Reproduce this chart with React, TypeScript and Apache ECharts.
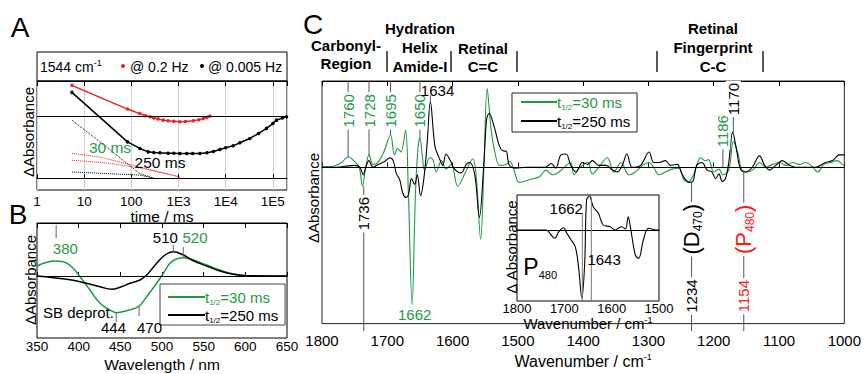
import React, { useEffect, useRef } from "react";
import * as echarts from "echarts";

const FONT = '"Liberation Sans", Arial, Helvetica, sans-serif';
const GREEN = "#1e9a46";
const RED = "#ee1f25";
const PRED = "#ff1a1a";
const GRAY = "#555";

// ---------- Panel A (kinetics at 1544 cm-1) ----------
const aRedTimes = [5.5, 83, 150, 200, 248, 300, 370, 474, 600, 800, 1070, 1400, 2050, 2700, 3340, 4000, 4630];
const aRedValues = [1.495, 1.113, 1.04, 1.005, 0.989, 0.97, 0.955, 0.935, 0.925, 0.915, 0.908, 0.912, 0.924, 0.94, 0.963, 0.98, 1.0];
const aBlackTimes = [5.5, 83, 152, 228, 300, 404, 600, 800, 1070, 1500, 2000, 2840, 4000, 5500, 7530, 10000, 14400, 20000, 32500, 50000, 73500, 100000, 120000, 160000, 195000];
const aBlackValues = [1.382, 0.585, 0.479, 0.424, 0.415, 0.408, 0.402, 0.4, 0.398, 0.398, 0.397, 0.398, 0.41, 0.43, 0.463, 0.49, 0.521, 0.57, 0.64, 0.72, 0.802, 0.88, 0.935, 0.97, 0.989];
const aFit30aTimes = [5.5, 21.7, 152, 1070];
const aFit30aValues = [0.40, 0.34, 0.18, 0.02];
const aFit30bTimes = [5.5, 35, 178, 1070];
const aFit30bValues = [0.29, 0.24, 0.156, 0.02];
const aFit250aTimes = [5.5, 30, 150, 300];
const aFit250aValues = [0.935, 0.5, 0.075, 0.0];
const aFit250bTimes = [5.5, 150, 300];
const aFit250bValues = [0.1, 0.05, 0.0];
const aRefLines = [0, 1];

// ---------- Panel B (UV/vis difference spectra) ----------
const bGreenWl = [350, 371.6, 381.6, 391.6, 401.6, 413.6, 425.6, 437.6, 445.6, 457.6, 471.6, 481.6, 493.6, 501.6, 511.6, 525.6, 537.6, 553.6, 569.6, 585.6, 601.6, 650];
const bGreenVal = [1.0, 1.5, 1.43, 0.93, -0.07, -1.4, -2.73, -3.4, -3.67, -3.47, -3.07, -2.07, -0.73, 0.27, 1.43, 1.83, 1.6, 1.1, 0.6, 0.2, 0.03, 0];
const bBlackWl = [350, 385.6, 401.6, 425.6, 439.6, 449.6, 461.6, 473.6, 481.6, 493.6, 503.6, 513.6, 525.6, 537.6, 553.6, 569.6, 585.6, 601.6, 650];
const bBlackVal = [0, -0.33, -0.57, -1.07, -1.33, -1.13, -0.73, -0.4, 0.1, 1.27, 2.1, 2.43, 2.1, 1.53, 1.0, 0.5, 0.17, 0.03, 0];

// ---------- Panel C (IR difference spectra) ----------
const cGreenSpectrum: [number, number][] = [
  [1800, 0.1], [1790, 0.05], [1780, 0.15], [1770, 0.5], [1760, 1.1], [1750, 0.6], [1743, 0], [1738, -2.0], [1733, 0],
  [1728, 1.3], [1722, 0.3], [1716, 0.4], [1706, 1.5], [1695, 3.4], [1689, 1.3], [1684, 2.0], [1679, 1.6], [1672, 3.9],
  [1668, -2.0], [1662, -14.5], [1657, -3.0], [1653, 2.0], [1650, 3.1], [1646, 1.0], [1643, -0.3], [1635, 1.0], [1630, 0.8],
  [1625, -0.5], [1617, 0.7], [1610, -0.2], [1602, 0.3], [1592, -2.0], [1580, -0.5], [1569, 0.9], [1564, -0.8], [1557, -7.6],
  [1552, 0], [1547, 8.3], [1541, 4.0], [1535, 1.5], [1528, 0.2], [1518, 0.3], [1512, 0.6], [1505, -0.5], [1498, -1.6],
  [1482, -1.3], [1467, -1.0], [1457, -0.3], [1447, -0.8], [1437, -0.5], [1426, 0.2], [1419, 0.5], [1414, -0.8], [1406, -0.1],
  [1393, 0.5], [1386, -0.7], [1376, 0], [1363, 1.0], [1353, -0.5], [1342, 0.5], [1330, -0.8], [1320, -0.5], [1309, 0.2],
  [1299, 0.5], [1292, 0], [1284, -0.8], [1274, -0.5], [1264, -0.2], [1253, -0.1], [1246, -1.3], [1238, -1.5], [1231, -0.8],
  [1220, 1.0], [1213, 0.7], [1208, 0.8], [1200, -0.5], [1192, -0.2], [1186, -0.8], [1177, -0.3], [1170, 2.7], [1163, 1.5],
  [1157, -0.3], [1149, -0.5], [1139, -0.2], [1130, 0.5], [1120, 0], [1110, 0.3], [1099, 0.5], [1089, 0.2], [1079, 0.5],
  [1069, 0.3], [1059, 0.5], [1048, 0], [1041, -0.5], [1031, 0.3], [1021, 0.5], [1011, 0.7], [1003, 0.3], [1000, 0.2],
];
const cBlackSpectrum: [number, number][] = [
  [1800, 0], [1780, 0], [1765, 0.1], [1750, 0.2], [1742, 0], [1737, -0.8], [1733, 0], [1728, 0.7], [1722, 0], [1714, 0.3],
  [1704, 0.6], [1696, 1.0], [1691, 0.7], [1686, -0.7], [1681, -1.3], [1676, -2.8], [1671, -3.2], [1667, -2.7], [1663, -1.2],
  [1658, -1.8], [1654, -0.8], [1649, -3.0], [1644, -1.2], [1639, 2.5], [1634, 6.9], [1627, 2.2], [1620, 0.9], [1615, 0.2],
  [1610, 1.4], [1602, 0.5], [1597, -0.2], [1587, -0.6], [1579, 0.3], [1574, 0.5], [1566, -0.8], [1559, -5.3], [1552, 0.5],
  [1548, 5.0], [1544, 5.7], [1536, 4.2], [1528, 2.2], [1521, 1.7], [1518, 1.7], [1513, 0.2], [1503, -0.1], [1488, 0],
  [1458, 0], [1449, 0.4], [1442, -0.1], [1434, 1.3], [1426, 1.4], [1419, 0.2], [1411, -0.5], [1401, 0.5], [1393, 0.3],
  [1386, 0.7], [1376, 0.2], [1365, 0.2], [1355, -0.3], [1348, -0.5], [1340, 0.2], [1333, 1.4], [1325, 0], [1312, 0.2],
  [1299, 1.6], [1292, 0.5], [1284, 0.5], [1274, 0.7], [1266, 0.2], [1256, 0.3], [1248, -0.8], [1238, -1.6], [1232, -1.5],
  [1226, 0.2], [1218, 0.5], [1210, -0.3], [1203, -0.5], [1197, -1.2], [1192, -0.7], [1187, -1.5], [1182, -1.2], [1177, 0.5],
  [1171, 3.7], [1165, 1.8], [1159, -0.2], [1151, -0.5], [1141, 0], [1130, 1.2], [1122, 0.2], [1115, -0.3], [1105, 0.2],
  [1095, 0.7], [1084, 0.2], [1074, 0], [1059, 0], [1044, 0], [1029, 0.5], [1018, 0.7], [1008, 1.3], [1000, 1.3],
];
const insetSpectrum: [number, number][] = [
  [1800, 0], [1738, 0], [1728, -0.5], [1720, -0.83], [1712, -0.2], [1702, 0.23], [1695, -0.3], [1688, -0.83], [1677, -1.67],
  [1670, -3.67], [1663, -6.83], [1657, -3.33], [1653, 3.0], [1647, 3.4], [1639, 2.33], [1628, 1.67], [1618, 0.5], [1603, 0.33],
  [1593, 0], [1585, 0.2], [1579, 0.33], [1571, 0.1], [1565, 1.33], [1560, 0.17], [1550, -2.5], [1543, -2.83], [1533, -1.0],
  [1522, 0.17], [1505, 0], [1500, 0],
];

// annotation positions (data units)
const cGreenPeaks = [1760, 1728, 1695, 1650];
const cGreenPeakVals = [1.1, 1.3, 3.4, 3.1];

const zip = (xs: number[], ys: number[]) => xs.map((x, i) => [x, ys[i]]);

const logFmt = (v: number) => {
  const e = Math.log10(v);
  const r = Math.round(e);
  if (Math.abs(e - r) > 1e-6) return "";
  return r < 3 ? String(Math.round(v)) : "1E" + r;
};
const plainFmt = (v: number) => String(v);

const tickLbl = (size: number, margin: number) => ({
  fontFamily: FONT, fontSize: size, color: "#000", margin, formatter: plainFmt,
});
const nameStyle = (size: number) => ({ fontFamily: FONT, fontSize: size, color: "#000" });
const waveName = (size: number) => ({
  name: "{a|Wavenumber / cm}{b|-1}",
  nameTextStyle: {
    rich: {
      a: { fontFamily: FONT, fontSize: size, color: "#000", lineHeight: size + 1 },
      b: { fontFamily: FONT, fontSize: 9, color: "#000", lineHeight: 9, verticalAlign: "top" },
    },
  },
});
const topAxis = (gridIndex: number, extra: any) => ({
  gridIndex, position: "top", axisLabel: { show: false }, splitLine: { show: false },
  axisLine: { show: true, lineStyle: { color: "#000" } },
  axisTick: { show: true, inside: true, length: 5, lineStyle: { color: "#000" } }, ...extra,
});
const hiddenY = (gridIndex: number, min: number, max: number) => ({
  gridIndex, type: "value", min, max, axisLine: { show: false }, axisTick: { show: false },
  axisLabel: { show: false }, splitLine: { show: false },
});
const zeroLine = (vals: number[]) => ({
  silent: true, symbol: ["none", "none"], label: { show: false },
  lineStyle: { color: "#000", type: "solid", width: 1 }, emphasis: { disabled: true },
  data: vals.map((v) => ({ yAxis: v })),
});

function buildOption(): any {
  const border = { show: true, borderColor: "#000", borderWidth: 1, backgroundColor: "transparent" };
  return {
    animation: false,
    backgroundColor: "#fff",
    textStyle: { fontFamily: FONT },
    grid: [
      { left: 37, top: 81, width: 250, height: 109, ...border },
      { left: 37, top: 223, width: 250, height: 115, ...border },
      { left: 322, top: 81, width: 524, height: 256, ...border, borderColor: "#222" },
      { left: 517, top: 195, width: 142, height: 106, ...border, backgroundColor: "#fff" },
    ],
    xAxis: [
      {
        gridIndex: 0, type: "log", logBase: 10, min: 1, max: 200000,
        axisLine: { show: true, lineStyle: { color: "#000" } },
        axisTick: { inside: true, length: 4, lineStyle: { color: "#000" } },
        axisLabel: { ...tickLbl(13.5, 4), formatter: logFmt, showMaxLabel: false },
        splitLine: { show: true, lineStyle: { color: "#d2d2d2", width: 1 } },
        name: "time / ms", nameLocation: "middle", nameGap: 17, nameTextStyle: nameStyle(15.5),
      },
      topAxis(0, { type: "log", logBase: 10, min: 1, max: 200000 }),
      {
        gridIndex: 1, type: "value", min: 350, max: 650, interval: 50,
        axisLine: { show: true, lineStyle: { color: "#000" } },
        axisTick: { inside: true, length: 4, lineStyle: { color: "#000" } },
        axisLabel: tickLbl(13.5, 1), splitLine: { show: false },
        name: "Wavelength / nm", nameLocation: "middle", nameGap: 18, nameTextStyle: nameStyle(15.5),
      },
      topAxis(1, { type: "value", min: 350, max: 650, interval: 50 }),
      {
        gridIndex: 2, type: "value", inverse: true, min: 1000, max: 1800, interval: 100,
        axisLine: { show: true, lineStyle: { color: "#222" } },
        axisTick: { inside: true, length: 5, lineStyle: { color: "#222" } },
        axisLabel: tickLbl(15, 9), splitLine: { show: false },
        nameLocation: "middle", nameGap: 22, ...waveName(16),
      },
      topAxis(2, { type: "value", inverse: true, min: 1000, max: 1800, interval: 100 }),
      {
        gridIndex: 3, type: "value", inverse: true, min: 1500, max: 1800, interval: 100,
        axisLine: { show: true, lineStyle: { color: "#000" } },
        axisTick: { show: false },
        axisLabel: tickLbl(13, 1), splitLine: { show: false },
        nameLocation: "middle", nameGap: 12, ...waveName(15),
      },
    ],
    yAxis: [
      hiddenY(0, -0.19, 1.565),
      hiddenY(1, -6.2, 5.3),
      hiddenY(2, -16.5, 9.1),
      hiddenY(3, -7.1, 3.5),
    ],
    series: [
      {
        type: "line", xAxisIndex: 0, yAxisIndex: 0, data: zip(aRedTimes, aRedValues),
        symbol: "circle", symbolSize: 3.5, showSymbol: true, color: RED,
        lineStyle: { color: RED, width: 1.5 }, itemStyle: { color: RED }, markLine: zeroLine(aRefLines), z: 3,
      },
      {
        type: "line", xAxisIndex: 0, yAxisIndex: 0, data: zip(aBlackTimes, aBlackValues),
        symbol: "circle", symbolSize: 3.5, showSymbol: true, color: "#000",
        lineStyle: { color: "#000", width: 1.5 }, itemStyle: { color: "#000" }, z: 3,
      },
      ...[
        [aFit30aTimes, aFit30aValues, RED], [aFit30bTimes, aFit30bValues, RED],
        [aFit250aTimes, aFit250aValues, "#000"], [aFit250bTimes, aFit250bValues, "#000"],
      ].map(([t, v, c]: any) => ({
        type: "line", xAxisIndex: 0, yAxisIndex: 0, data: zip(t, v), symbol: "none",
        lineStyle: { color: c, width: 1, type: "dotted" },
      })),
      {
        type: "line", xAxisIndex: 2, yAxisIndex: 1, data: zip(bGreenWl, bGreenVal), symbol: "none", smooth: 0.4,
        lineStyle: { color: GREEN, width: 1.5 },
      },
      {
        type: "line", xAxisIndex: 2, yAxisIndex: 1, data: zip(bBlackWl, bBlackVal), symbol: "none", smooth: 0.4,
        lineStyle: { color: "#000", width: 1.5 }, markLine: zeroLine([0]),
      },
      {
        type: "line", xAxisIndex: 4, yAxisIndex: 2, data: cGreenSpectrum, symbol: "none", smooth: 0.35,
        lineStyle: { color: GREEN, width: 1.1 },
      },
      {
        type: "line", xAxisIndex: 4, yAxisIndex: 2, data: cBlackSpectrum, symbol: "none", smooth: 0.35,
        lineStyle: { color: "#000", width: 1.1 }, markLine: zeroLine([0]),
      },
      {
        type: "line", xAxisIndex: 6, yAxisIndex: 3, data: insetSpectrum, symbol: "none", smooth: 0.35,
        lineStyle: { color: "#000", width: 1.1 }, markLine: zeroLine([0]), z: 5,
      },
    ],
  };
}

function T(x: number, y: number, text: string, o: any = {}) {
  return {
    type: "text", x, y, z: 50, rotation: o.rot || 0,
    style: {
      text, fontFamily: FONT, fontSize: o.size || 15, fontWeight: o.weight || "normal",
      fill: o.color || "#000", align: o.align || "center", verticalAlign: "middle",
      backgroundColor: o.bg, padding: o.bg ? [0, 2] : 0, rich: o.rich,
    },
  };
}
function L(x1: number, y1: number, x2: number, y2: number, color = GRAY, w = 1, z = 40) {
  return { type: "line", z, shape: { x1, y1, x2, y2 }, style: { stroke: color, lineWidth: w } };
}
function subRich(color: string, main: number, sub: number) {
  return {
    m: { fontFamily: FONT, fontSize: main, fill: color, lineHeight: main + 3 },
    s: { fontFamily: FONT, fontSize: sub, fill: color, lineHeight: sub, verticalAlign: "bottom" },
    u: { fontFamily: FONT, fontSize: sub, fill: color, lineHeight: sub, verticalAlign: "top" },
  };
}

function buildGraphics(chart: any) {
  const P = (si: number, x: number, y: number) => chart.convertToPixel({ seriesIndex: si }, [x, y]) as number[];
  const g: any[] = [];
  const R90 = Math.PI / 2;

  // panel letters
  g.push(T(20, 27, "A", { size: 28 }), T(18, 214, "B", { size: 28 }), T(313, 24, "C", { size: 28 }));

  // ---- Panel A header
  g.push({ type: "rect", z: 40, shape: { x: 37, y: 52, width: 250, height: 29 }, style: { fill: "none", stroke: "#000", lineWidth: 1 } });
  g.push(T(40, 67, "{m|1544 cm}{u|-1}", { align: "left", rich: subRich("#000", 14, 9) }));
  g.push({ type: "circle", z: 50, shape: { cx: 123, cy: 66, r: 2 }, style: { fill: RED } });
  g.push(T(130, 67, "@ 0.2 Hz", { align: "left", size: 14 }));
  g.push({ type: "circle", z: 50, shape: { cx: 202, cy: 66, r: 2 }, style: { fill: "#000" } });
  g.push(T(208, 67, "@ 0.005 Hz", { align: "left", size: 14 }));
  g.push(T(110, 147, "30 ms", { color: GREEN, size: 15.5 }));
  g.push(T(160, 162, "250 ms", { size: 15.5 }));
  g.push(T(28, 132, "ΔAbsorbance", { rot: R90, size: 15 }));

  // ---- Panel B annotations
  const bs = 6;
  const bLines: [number, number, number][] = [[373, 5.1, 3.8], [513.5, 3.1, 2.4], [525.5, 2.9, 1.9], [445, -3.7, -4.6], [472.5, -3.1, -4.0]];
  bLines.forEach(([x, y1, y2]) => {
    const a = P(bs, x, y1), b = P(bs, x, y2);
    g.push(L(a[0], a[1], b[0], b[1], "#666"));
  });
  const bTexts: [number, number, string, string][] = [
    [384, 2.8, "380", GREEN], [504, 3.9, "510", "#000"], [539.6, 3.9, "520", GREEN],
    [441.8, -5.1, "444", "#000"], [485, -5.1, "470", "#000"], [399.8, -3.6, "SB deprot.", "#000"],
  ];
  bTexts.forEach(([x, y, t, c]) => {
    const p = P(bs, x, y);
    g.push(T(p[0], p[1], t, { color: c, size: 15 }));
  });
  g.push(T(30, 280, "ΔAbsorbance", { rot: R90, size: 15 }));
  // legend B
  g.push({ type: "rect", z: 45, shape: { x: 160, y: 284, width: 125, height: 41 }, style: { fill: "#fff", stroke: "#444", lineWidth: 1 } });
  g.push(L(168, 297, 205, 297, GREEN, 2, 48), L(168, 315, 205, 315, "#000", 2, 48));
  g.push(T(205, 297, "{m|t}{s|1/2}{m|=30 ms}", { align: "left", rich: subRich(GREEN, 15, 8) }));
  g.push(T(205, 315, "{m|t}{s|1/2}{m|=250 ms}", { align: "left", rich: subRich("#000", 15, 8) }));

  // ---- Panel C header
  const hb = { weight: "bold", size: 15 };
  g.push(T(346, 45, "Carbonyl-", hb), T(346, 63, "Region", hb));
  g.push(T(420, 28, "Hydration", hb), T(420, 47, "Helix", hb), T(420, 66, "Amide-I", hb));
  g.push(T(483, 48, "Retinal", hb), T(483, 66, "C=C", hb));
  g.push(T(713, 28, "Retinal", hb), T(713, 47, "Fingerprint", hb), T(713, 66, "C-C", hb));
  [387, 451, 517, 657, 763].forEach((x) => g.push(L(x, 51, x, 72, "#222", 1.5)));
  g.push(T(313, 198, "ΔAbsorbance", { rot: R90, size: 15 }));

  // ---- Panel C annotations
  const cs = 8;
  const top = 9.1, below = -17.3;
  cGreenPeaks.forEach((wn, i) => {
    const a = P(cs, wn, top), b = P(cs, wn, cGreenPeakVals[i]), t = P(cs, wn, 5.95);
    g.push(L(a[0], a[1], b[0], b[1]));
    g.push(T(t[0], t[1], String(wn), { rot: R90, color: GREEN, bg: "#fff" }));
  });
  {
    const a = P(cs, 1634, 7.6), b = P(cs, 1634, 6.9), t = P(cs, 1623, 8.1);
    g.push(L(a[0], a[1], b[0], b[1]));
    g.push(T(t[0], t[1], "1634"));
  }
  {
    const a = P(cs, 1736, -2.0), b = P(cs, 1736, below), t = P(cs, 1736, -4.9);
    g.push(L(a[0], a[1], b[0], b[1]));
    g.push(T(t[0], t[1], "1736", { rot: R90, bg: "#fff" }));
  }
  {
    const t = P(cs, 1658, -15.5);
    g.push(T(t[0], t[1], "1662", { color: GREEN }));
  }
  {
    const a = P(cs, 1186, 3.8), b = P(cs, 1186, 0), t = P(cs, 1186, 3.8);
    g.push(L(a[0], a[1], b[0], b[1]));
    g.push(T(t[0], t[1], "1186", { rot: R90, color: GREEN, bg: "#fff" }));
  }
  {
    const a = P(cs, 1170, top), b = P(cs, 1170, 3.7), t = P(cs, 1170, 7.2);
    g.push(L(a[0], a[1], b[0], b[1]));
    g.push(T(t[0], t[1], "1170", { rot: R90, bg: "#fff" }));
  }
  const marker = (wn: number, from: number, color: string, letter: string, sub: string) => {
    const a = P(cs, wn, from), b = P(cs, wn, below), t1 = P(cs, wn, -6.55), t2 = P(cs, wn, -13.6);
    g.push(L(a[0], a[1], b[0], b[1]));
    g.push(T(t1[0], t1[1], `{m|(${letter}}{s|${sub}}{m|)}`, { rot: R90, bg: "#fff", rich: subRich(color, 22, 12) }));
    g.push(T(t2[0], t2[1], String(wn), { rot: R90, color, bg: "#fff" }));
  };
  marker(1234, -1.5, "#000", "D", "470");
  marker(1154, -0.3, PRED, "P", "480");

  // legend C
  g.push({ type: "rect", z: 45, shape: { x: 512, y: 93, width: 125, height: 39 }, style: { fill: "#fff", stroke: "#222", lineWidth: 1 } });
  g.push(L(521, 102, 557, 102, GREEN, 2, 48), L(521, 121, 557, 121, "#000", 2, 48));
  g.push(T(557, 102, "{m|t}{s|1/2}{m|=30 ms}", { align: "left", rich: subRich(GREEN, 15, 8) }));
  g.push(T(557, 121, "{m|t}{s|1/2}{m|=250 ms}", { align: "left", rich: subRich("#000", 15, 8) }));

  // ---- Inset annotations
  const is = 10;
  {
    const a = P(is, 1662, 1.7), b = P(is, 1662, -7.1);
    g.push(L(a[0], a[1], b[0], b[1], "#777"));
    const c = P(is, 1643, 3.3), d = P(is, 1643, -7.1);
    g.push(L(c[0], c[1], d[0], d[1], "#777"));
    const t1 = P(is, 1696, 2.2), t2 = P(is, 1616, -2.9), t3 = P(is, 1751, -3.7);
    g.push(T(t1[0], t1[1], "1662"), T(t2[0], t2[1], "1643"));
    g.push(T(t3[0], t3[1], "{m|P}{s|480}", { rich: subRich("#000", 23, 11) }));
  }
  g.push(T(511, 247, "Δ Absorbance", { rot: R90, size: 15 }));
  return g;
}

export default function App() {
  const ref = useRef<HTMLDivElement>(null);
  useEffect(() => {
    const chart = echarts.init(ref.current as HTMLDivElement, null, { renderer: "svg" });
    chart.setOption(buildOption());
    chart.setOption({ graphic: { elements: buildGraphics(chart) } });
    return () => chart.dispose();
  }, []);
  return (
    <div
      ref={ref}
      style={{ position: "absolute", left: 0, top: 0, width: 864, height: 374, background: "#fff" }}
    />
  );
}
